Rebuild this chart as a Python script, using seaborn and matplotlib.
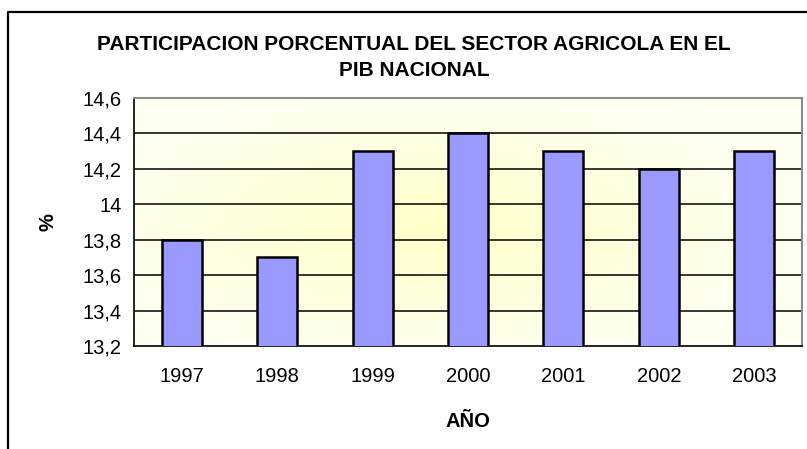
import numpy as np
import pandas as pd
import matplotlib
matplotlib.use("Agg")
import matplotlib.pyplot as plt
import seaborn as sns
from matplotlib.ticker import FuncFormatter, FixedLocator
from matplotlib.colors import LinearSegmentedColormap
from matplotlib.lines import Line2D

# datos
anios = ["1997", "1998", "1999", "2000", "2001", "2002", "2003"]
porcentaje = [13.8, 13.7, 14.3, 14.4, 14.3, 14.2, 14.3]
df = pd.DataFrame({"ANIO": anios, "PCT": porcentaje})

sns.set_style("white")
plt.rcParams["font.family"] = ["Liberation Sans", "DejaVu Sans"]
plt.rcParams["text.color"] = "black"
plt.rcParams["axes.labelcolor"] = "black"
plt.rcParams["xtick.color"] = "black"
plt.rcParams["ytick.color"] = "black"

fig = plt.figure(figsize=(8.07, 4.49), dpi=100)
ax = fig.add_axes([134 / 807, 1 - 346 / 449, 668 / 807, 248 / 449])

# fondo con degradado radial (estilo Excel)
ny, nx = 200, 400
yy, xx = np.mgrid[-1:1:ny * 1j, -1:1:nx * 1j]
r = np.clip(np.sqrt((xx + 0.1) ** 2 + (yy - 0.05) ** 2) / 1.1, 0, 1)
cmap = LinearSegmentedColormap.from_list("fondo", ["#FFFFC8", "#FFFFF2"])
ax.imshow(r, cmap=cmap, extent=(-0.5, 6.5, 13.2, 14.6), aspect="auto",
          zorder=0, vmin=0, vmax=1)

sns.barplot(data=df, x="ANIO", y="PCT", color="#9999FF", width=0.42,
            edgecolor="black", linewidth=1.8, saturation=1, ax=ax, zorder=3)

ax.set_xlim(-0.5, 6.5)
ax.set_ylim(13.2, 14.6)
ax.set_yticks(np.arange(13.2, 14.61, 0.2))
ax.yaxis.set_major_formatter(FuncFormatter(lambda v, p: ("%g" % round(v, 1)).replace(".", ",")))
for y in np.arange(13.4, 14.41, 0.2):
    ax.axhline(y, color="black", linewidth=1.1, zorder=1)

ax.xaxis.set_minor_locator(FixedLocator(np.arange(-0.5, 6.6, 1)))
ax.tick_params(axis="x", which="major", length=0, pad=15, labelsize=14.5)
ax.tick_params(axis="x", which="minor", length=5, width=1, color="black", direction="out")
ax.tick_params(axis="y", length=5, width=1, color="black", direction="out", pad=4, labelsize=14.5)
ax.grid(False)

for s in ["top", "right"]:
    ax.spines[s].set_color("#8c8c8c")
    ax.spines[s].set_linewidth(1.5)
ax.spines["left"].set_color("black")
ax.spines["left"].set_linewidth(1.2)
ax.spines["bottom"].set_color("black")
ax.spines["bottom"].set_linewidth(1.2)

ax.set_xlabel("AÑO", fontsize=14.5, fontweight="bold", labelpad=19)
ax.set_ylabel("%", fontsize=14.5, fontweight="bold", labelpad=18)

fig.text(414 / 807, 1 - 44 / 449, "PARTICIPACION PORCENTUAL DEL SECTOR AGRICOLA EN EL",
         ha="center", va="center", fontsize=15, fontweight="bold")
fig.text(414 / 807, 1 - 70 / 449, "PIB NACIONAL",
         ha="center", va="center", fontsize=15, fontweight="bold")

# marco del grafico
fig.add_artist(Line2D([8 / 807, 8 / 807, 1.0], [0.0, 1 - 12 / 449, 1 - 12 / 449],
                      transform=fig.transFigure, color="black", linewidth=1.6))

fig.savefig("out.png", dpi=100)
